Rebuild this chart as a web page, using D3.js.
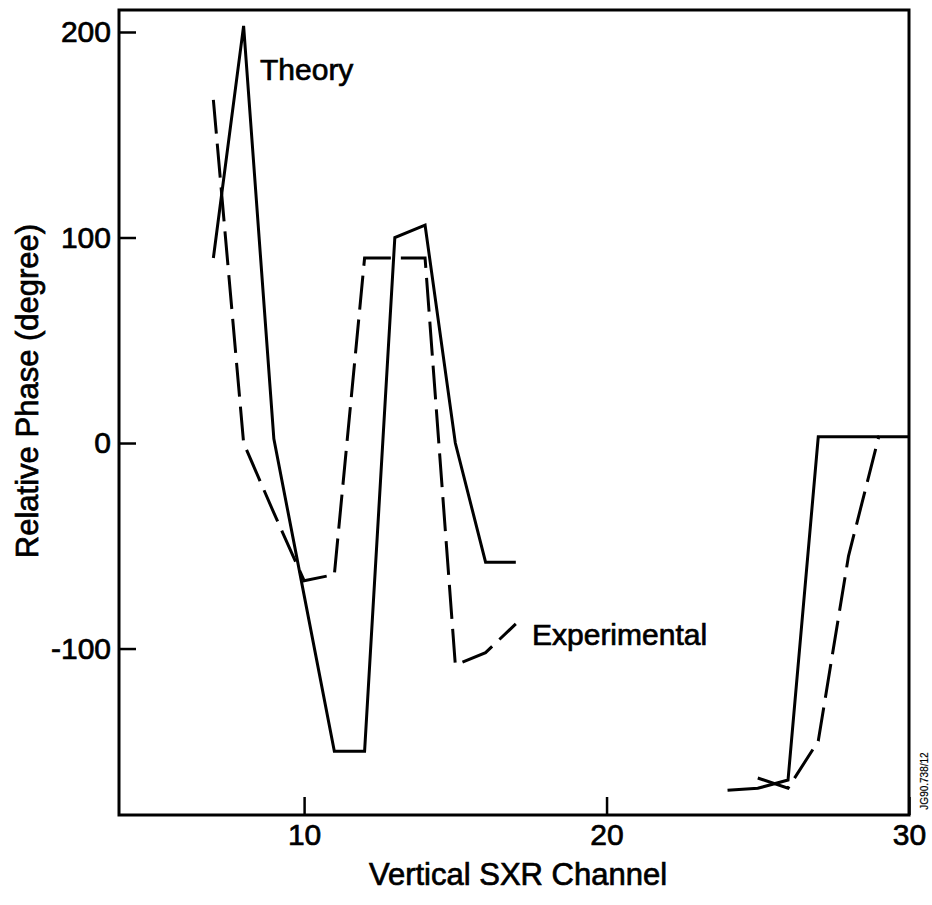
<!DOCTYPE html>
<html>
<head>
<meta charset="utf-8">
<script src="https://cdn.jsdelivr.net/npm/d3@7"></script>
<style>
  html, body { margin: 0; padding: 0; background: #fff; }
  svg { display: block; }
  text { font-family: "Liberation Sans", Arial, Helvetica, sans-serif; fill: #000; stroke: #000; stroke-width: 0.7px; }
</style>
</head>
<body>
<svg id="chart" width="932" height="905"></svg>
<script>
// ---- Data ----
const theoryChannelsA = [7, 8, 9, 10, 11, 12, 13, 14, 15, 16, 17];
const theoryPhaseA    = [90, 203, 2, -74, -150, -150, 100, 106, 0, -58, -58];
const theoryChannelsB = [24, 25, 26, 27, 28, 29];
const theoryPhaseB    = [-169, -168, -164, 3, 3, 3];

const expChannelsA = [7, 8, 9, 10, 11, 12, 13, 14, 15, 16, 17];
const expPhaseA    = [167, 0, -34, -67, -64, 90, 90, 90, -108, -102, -88];
const expChannelsB = [25, 26, 27, 28, 29, 30];
const expPhaseB    = [-163, -168, -145, -55, 3, 3];

const xTickValues = [10, 20, 30];
const yTickValues = [-100, 0, 100, 200];

const xLabel = "Vertical SXR Channel";
const yLabel = "Relative Phase (degree)";
const theoryLabel = "Theory";
const expLabel = "Experimental";
const codeLabel = "JG90.738/12";

// ---- Layout ----
const svg = d3.select("#chart");
const mLeft = 119, mRight = 909, mTop = 10, mBottom = 815;

const x = d3.scaleLinear().domain([3.88, 30]).range([mLeft, mRight]);
const y = d3.scaleLinear().domain([-181, 210.7]).range([mBottom, mTop]);

const fmt = d => String(d);

// frame
svg.append("rect")
  .attr("x", mLeft).attr("y", mTop)
  .attr("width", mRight - mLeft).attr("height", mBottom - mTop)
  .attr("fill", "none").attr("stroke", "#000").attr("stroke-width", 3);

// axes
const gx = svg.append("g")
  .attr("transform", `translate(0,${mBottom})`)
  .call(d3.axisBottom(x).tickValues(xTickValues).tickFormat(fmt).tickSize(-18).tickPadding(9));
const gy = svg.append("g")
  .attr("transform", `translate(${mLeft},0)`)
  .call(d3.axisLeft(y).tickValues(yTickValues).tickFormat(fmt).tickSize(-17).tickPadding(8));

[gx, gy].forEach(g => {
  g.select(".domain").remove();
  g.selectAll(".tick line").attr("stroke", "#000").attr("stroke-width", 2.5);
  g.selectAll(".tick text").attr("font-size", 30).attr("fill", "#000")
    .style("font-family", "'Liberation Sans', Arial, sans-serif");
});

// lines
const line = d3.line().x(d => x(d[0])).y(d => y(d[1]));
const zip = (a, b) => a.map((v, i) => [v, b[i]]);

const series = [
  { pts: zip(theoryChannelsA, theoryPhaseA), dash: null },
  { pts: zip(theoryChannelsB, theoryPhaseB), dash: null },
  { pts: zip(expChannelsA, expPhaseA), dash: "34,10" },
  { pts: zip(expChannelsB, expPhaseB), dash: "34,10" }
];

svg.append("g").selectAll("path")
  .data(series)
  .join("path")
  .attr("d", d => line(d.pts))
  .attr("fill", "none")
  .attr("stroke", "#000")
  .attr("stroke-width", 3)
  .attr("stroke-linejoin", "miter")
  .attr("stroke-dasharray", d => d.dash);

// annotations
svg.append("text").attr("x", 260).attr("y", 80)
  .attr("font-size", 30).text(theoryLabel);
svg.append("text").attr("x", 532).attr("y", 645)
  .attr("font-size", 30).text(expLabel);

// axis titles
svg.append("text")
  .attr("x", 518).attr("y", 885)
  .attr("text-anchor", "middle").attr("font-size", 31)
  .text(xLabel);
svg.append("text")
  .attr("transform", "translate(38,391) rotate(-90)")
  .attr("text-anchor", "middle").attr("font-size", 31)
  .text(yLabel);

// figure code
svg.append("text")
  .attr("transform", "translate(928,781) rotate(-90)")
  .attr("text-anchor", "middle").attr("font-size", 10)
  .style("stroke-width", "0.2px")
  .text(codeLabel);
</script>
</body>
</html>
